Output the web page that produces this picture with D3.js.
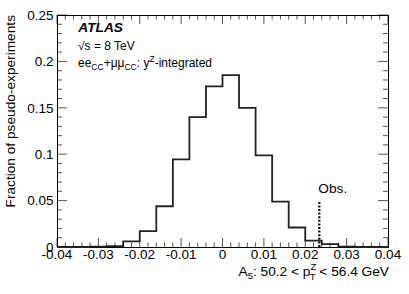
<!DOCTYPE html>
<html>
<head>
<meta charset="utf-8">
<script src="https://cdn.jsdelivr.net/npm/d3@7"></script>
<style>
  body { margin: 0; background: #fff; }
  svg text { font-family: "Liberation Sans", Arial, Helvetica, sans-serif; fill: #000; }
</style>
</head>
<body>
<div id="chart"></div>
<script>
// Bin edges run from -0.04 to 0.04 in steps of 0.004.
const binEdges = [-0.04, -0.036, -0.032, -0.028, -0.024, -0.02, -0.016, -0.012, -0.008, -0.004,
  0, 0.004, 0.008, 0.012, 0.016, 0.02, 0.024, 0.028, 0.032, 0.036, 0.04];
const fractions = [0, 0, 0.0003, 0.001, 0.006, 0.0172, 0.0439, 0.0945, 0.140, 0.173,
  0.1853, 0.150, 0.0988, 0.049, 0.021, 0.0069, 0.0032, 0.0005, 0, 0];
const observed = [0.0234, 0.0485];

const xTicks = [-0.04, -0.03, -0.02, -0.01, 0, 0.01, 0.02, 0.03, 0.04];
const yTicks = [0, 0.05, 0.1, 0.15, 0.2, 0.25];

const width = 409;
const height = 294;
const margin = {left: 57, right: 21, top: 15, bottom: 47};

let svg = d3.select('#chart')
  .append('svg')
  .attr('width', width)
  .attr('height', height);

let x = d3.scaleLinear().domain([-0.04, 0.04]).range([margin.left, width - margin.right]);
let y = d3.scaleLinear().domain([0, 0.25]).range([height - margin.bottom, margin.top]);

let fmt = t => t === 0 ? '0' : d3.format('')(+t.toFixed(3)).replace('−', '-');

// Minor ticks.
let xMinor = d3.range(0, 41).map(i => -0.04 + i * 0.002);
let yMinor = d3.range(0, 26).map(i => i * 0.01);

let ticks = svg.append('g')
  .attr('stroke', '#555')
  .attr('stroke-width', 1);

ticks.selectAll('line.xb')
  .data(xMinor)
  .enter()
  .append('line')
    .attr('x1', d => x(d)).attr('x2', d => x(d))
    .attr('y1', y(0))
    .attr('y2', (d, i) => y(0) - (i % 5 === 0 ? 9 : 4.5));

ticks.selectAll('line.xt')
  .data(xMinor)
  .enter()
  .append('line')
    .attr('x1', d => x(d)).attr('x2', d => x(d))
    .attr('y1', y(0.25))
    .attr('y2', (d, i) => y(0.25) + (i % 5 === 0 ? 9 : 4.5));

ticks.selectAll('line.yl')
  .data(yMinor)
  .enter()
  .append('line')
    .attr('y1', d => y(d)).attr('y2', d => y(d))
    .attr('x1', x(-0.04))
    .attr('x2', (d, i) => x(-0.04) + (i % 5 === 0 ? 10 : 5));

ticks.selectAll('line.yr')
  .data(yMinor)
  .enter()
  .append('line')
    .attr('y1', d => y(d)).attr('y2', d => y(d))
    .attr('x1', x(0.04))
    .attr('x2', (d, i) => x(0.04) - (i % 5 === 0 ? 10 : 5));

// Frame.
svg.append('rect')
  .attr('x', x(-0.04) + 0.5)
  .attr('y', y(0.25) + 0.5)
  .attr('width', x(0.04) - x(-0.04))
  .attr('height', y(0) - y(0.25))
  .attr('fill', 'none')
  .attr('stroke', '#000')
  .attr('stroke-width', 1);

// Tick labels.
svg.append('g')
  .selectAll('text')
  .data(xTicks)
  .enter()
  .append('text')
    .attr('x', d => x(d))
    .attr('y', 258.5)
    .attr('text-anchor', 'middle')
    .style('font-size', '13.5px')
    .text(d => fmt(d));

svg.append('g')
  .selectAll('text')
  .data(yTicks)
  .enter()
  .append('text')
    .attr('x', 53.5)
    .attr('y', d => y(d) + 4.8)
    .attr('text-anchor', 'end')
    .style('font-size', '13.5px')
    .text(d => fmt(d));

// Histogram outline.
let pts = binEdges.map((e, i) => [e, i < fractions.length ? fractions[i] : 0]);
let line = d3.line()
  .x(d => x(d[0]))
  .y(d => y(d[1]))
  .curve(d3.curveStepAfter);

svg.append('path')
  .datum(pts)
  .attr('d', line)
  .attr('fill', 'none')
  .attr('stroke', '#222')
  .attr('stroke-width', 1.8);

// Observed value.
svg.append('line')
  .attr('x1', x(observed[0])).attr('x2', x(observed[0]))
  .attr('y1', y(0)).attr('y2', y(observed[1]))
  .attr('stroke', '#000')
  .attr('stroke-width', 2.2)
  .attr('stroke-dasharray', '2,1.6');

svg.append('text')
  .attr('x', x(observed[0]) - 1)
  .attr('y', 193)
  .style('font-size', '13.7px')
  .text('Obs.');

// Labels.
svg.append('text')
  .attr('x', 78.3)
  .attr('y', 32.3)
  .style('font-size', '13.7px')
  .style('font-weight', 'bold')
  .style('font-style', 'italic')
  .text('ATLAS');

svg.append('text')
  .attr('x', 78)
  .attr('y', 50)
  .style('font-size', '12px')
  .text('\u221As = 8 TeV');

let chan = svg.append('text')
  .attr('x', 78)
  .attr('y', 66.7)
  .style('font-size', '12px');
chan.append('tspan').text('ee');
chan.append('tspan').attr('dy', 3).style('font-size', '8.5px').text('CC');
chan.append('tspan').attr('dy', -3).text('+\u03BC\u03BC');
chan.append('tspan').attr('dy', 3).style('font-size', '8.5px').text('CC');
chan.append('tspan').attr('dy', -3).text(': y');
chan.append('tspan').attr('dy', -5).style('font-size', '8.5px').text('Z');
chan.append('tspan').attr('dy', 5).text('-integrated');

// Axis titles.
svg.append('text')
  .attr('transform', 'translate(15,15) rotate(-90)')
  .attr('text-anchor', 'end')
  .style('font-size', '13.7px')
  .text('Fraction of pseudo-experiments');

let xt = svg.append('text')
  .attr('x', 389)
  .attr('y', 276)
  .attr('text-anchor', 'end')
  .style('font-size', '13.7px');
xt.append('tspan').text('A');
xt.append('tspan').attr('dy', 3).style('font-size', '9.5px').text('5');
xt.append('tspan').attr('dy', -3).text(': 50.2 < p');
xt.append('tspan').attr('dy', -6).style('font-size', '9.5px').text('Z');
xt.append('tspan').attr('dx', -6.5).attr('dy', 10).style('font-size', '9.5px').text('T');
xt.append('tspan').attr('dy', -4).text(' < 56.4 GeV');
</script>
</body>
</html>
